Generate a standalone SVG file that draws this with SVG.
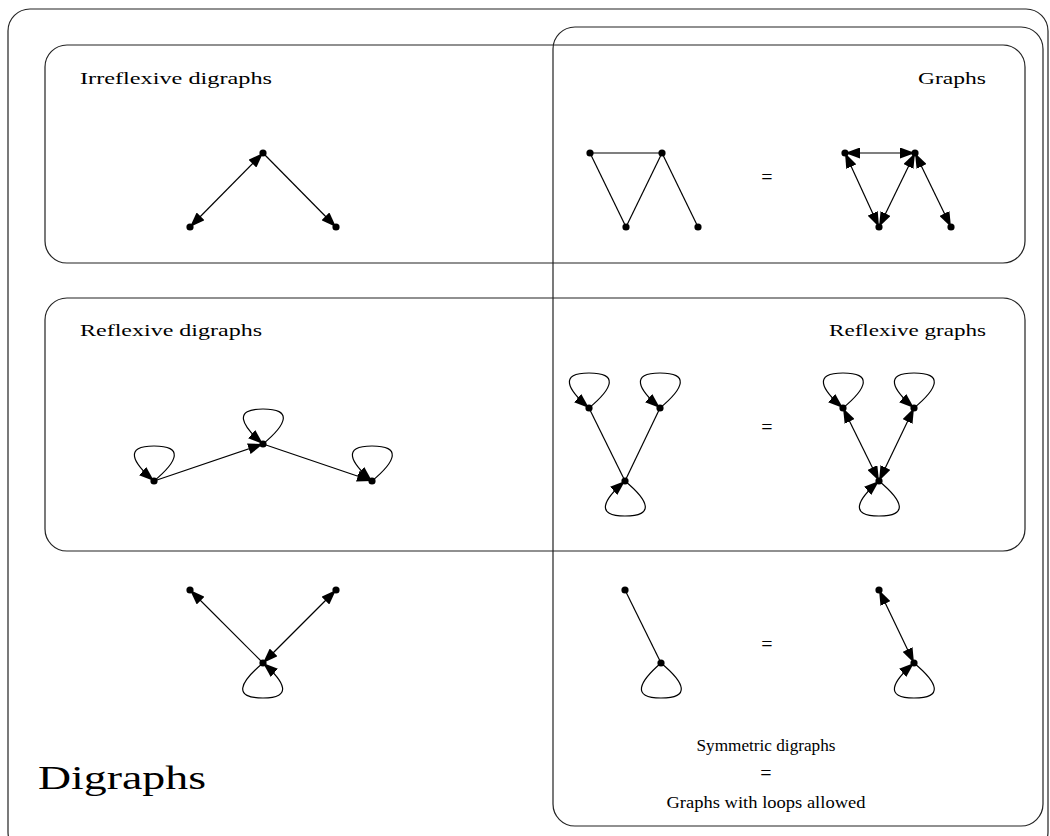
<svg xmlns="http://www.w3.org/2000/svg" width="1050" height="836" viewBox="0 0 1050 836">
<defs>
<marker id="ah" viewBox="0 0 15 11" markerWidth="15" markerHeight="11" refX="15" refY="5.5" orient="auto-start-reverse" markerUnits="userSpaceOnUse">
<path d="M0,0 L15,5.5 L0,11 z" fill="#000"/>
</marker>
<style>
.frame{fill:none;stroke:#222;stroke-width:1.2}
.e{fill:none;stroke:#000;stroke-width:1.2}
.d{marker-end:url(#ah)}
.b{marker-start:url(#ah);marker-end:url(#ah)}
.n{fill:#000}
.t{font-family:"Liberation Serif","DejaVu Serif",serif;font-size:17px;fill:#000}
.eq{font-family:"Liberation Serif","DejaVu Serif",serif;font-size:20px;fill:#000;text-anchor:middle}
</style>
</defs>
<g id="frames">
<rect id="outer" class="frame" x="8" y="9" width="1040" height="845" rx="22"/>
<rect id="irreflexive" class="frame" x="45" y="45" width="980" height="218" rx="22"/>
<rect id="reflexive" class="frame" x="45" y="298" width="980" height="253" rx="22"/>
<rect id="symmetric" class="frame" x="553" y="27" width="490" height="799" rx="22"/>
</g>
<g id="labels">
<text class="t" x="80" y="84" textLength="192" lengthAdjust="spacingAndGlyphs">Irreflexive digraphs</text>
<text class="t" x="986" y="84" text-anchor="end" textLength="68" lengthAdjust="spacingAndGlyphs">Graphs</text>
<text class="t" x="80" y="336" textLength="182" lengthAdjust="spacingAndGlyphs">Reflexive digraphs</text>
<text class="t" x="986" y="336" text-anchor="end" textLength="157" lengthAdjust="spacingAndGlyphs">Reflexive graphs</text>
<text x="38" y="789" font-family="Liberation Serif,DejaVu Serif,serif" font-size="34" textLength="168" lengthAdjust="spacingAndGlyphs">Digraphs</text>
<text class="t" x="766" y="751" text-anchor="middle" textLength="139" lengthAdjust="spacingAndGlyphs">Symmetric digraphs</text>
<text class="eq" x="766" y="780">=</text>
<text class="t" x="766" y="808" text-anchor="middle" textLength="199" lengthAdjust="spacingAndGlyphs">Graphs with loops allowed</text>
<text class="eq" x="767" y="184">=</text>
<text class="eq" x="767" y="434">=</text>
<text class="eq" x="767" y="651">=</text>
</g>
<g id="connectors">
<line class="e b" x1="263" y1="153" x2="190" y2="227"/>
<line class="e d" x1="263" y1="153" x2="336" y2="227"/>
<line class="e" x1="590" y1="153" x2="662" y2="153"/>
<line class="e" x1="590" y1="153" x2="626" y2="227"/>
<line class="e" x1="662" y1="153" x2="626" y2="227"/>
<line class="e" x1="662" y1="153" x2="698" y2="227"/>
<line class="e b" x1="845" y1="153" x2="915" y2="153"/>
<line class="e b" x1="845" y1="153" x2="879" y2="227"/>
<line class="e b" x1="915" y1="153" x2="879" y2="227"/>
<line class="e b" x1="915" y1="153" x2="951" y2="227"/>
<line class="e d" x1="154" y1="481" x2="263" y2="444"/>
<line class="e d" x1="263" y1="444" x2="372" y2="481"/>
<path class="e d" d="M154,481 C178,461 184,446 154,446 C124,446 132,462 154,481"/>
<path class="e d" d="M263,444 C287,424 293,409 263,409 C233,409 241,425 263,444"/>
<path class="e d" d="M372,481 C396,461 402,446 372,446 C342,446 350,462 372,481"/>
<line class="e" x1="589" y1="408" x2="625" y2="481"/>
<line class="e" x1="660" y1="408" x2="625" y2="481"/>
<path class="e d" d="M589,408 C613,388 619,373 589,373 C559,373 567,389 589,408"/>
<path class="e d" d="M660,408 C684,388 690,373 660,373 C630,373 638,389 660,408"/>
<path class="e d" d="M625,481 C649,501 655,516 625,516 C595,516 603,500 625,481"/>
<line class="e b" x1="843" y1="408" x2="879" y2="481"/>
<line class="e b" x1="914" y1="408" x2="879" y2="481"/>
<path class="e d" d="M843,408 C867,388 873,373 843,373 C813,373 821,389 843,408"/>
<path class="e d" d="M914,408 C938,388 944,373 914,373 C884,373 892,389 914,408"/>
<path class="e d" d="M879,481 C903,501 909,516 879,516 C849,516 857,500 879,481"/>
<line class="e d" x1="263" y1="663" x2="190" y2="590"/>
<line class="e b" x1="263" y1="663" x2="336" y2="590"/>
<path class="e d" d="M263,663 C239,683 233,698 263,698 C293,698 285,682 263,663"/>
<line class="e" x1="625" y1="590" x2="661" y2="663"/>
<path class="e" d="M661,663 C685,683 691,698 661,698 C631,698 639,682 661,663"/>
<line class="e b" x1="879" y1="590" x2="914" y2="663"/>
<path class="e d" d="M914,663 C938,683 944,698 914,698 C884,698 892,682 914,663"/>
</g>
<g id="nodes">
<g id="n1"><circle class="n" cx="263" cy="153" r="3.6"/></g>
<g id="n2"><circle class="n" cx="190" cy="227" r="3.6"/></g>
<g id="n3"><circle class="n" cx="336" cy="227" r="3.6"/></g>
<g id="n4"><circle class="n" cx="590" cy="153" r="3.6"/></g>
<g id="n5"><circle class="n" cx="662" cy="153" r="3.6"/></g>
<g id="n6"><circle class="n" cx="626" cy="227" r="3.6"/></g>
<g id="n7"><circle class="n" cx="698" cy="227" r="3.6"/></g>
<g id="n8"><circle class="n" cx="845" cy="153" r="3.6"/></g>
<g id="n9"><circle class="n" cx="915" cy="153" r="3.6"/></g>
<g id="n10"><circle class="n" cx="879" cy="227" r="3.6"/></g>
<g id="n11"><circle class="n" cx="951" cy="227" r="3.6"/></g>
<g id="n12"><circle class="n" cx="154" cy="481" r="3.6"/></g>
<g id="n13"><circle class="n" cx="263" cy="444" r="3.6"/></g>
<g id="n14"><circle class="n" cx="372" cy="481" r="3.6"/></g>
<g id="n15"><circle class="n" cx="589" cy="408" r="3.6"/></g>
<g id="n16"><circle class="n" cx="660" cy="408" r="3.6"/></g>
<g id="n17"><circle class="n" cx="625" cy="481" r="3.6"/></g>
<g id="n18"><circle class="n" cx="843" cy="408" r="3.6"/></g>
<g id="n19"><circle class="n" cx="914" cy="408" r="3.6"/></g>
<g id="n20"><circle class="n" cx="879" cy="481" r="3.6"/></g>
<g id="n21"><circle class="n" cx="190" cy="590" r="3.6"/></g>
<g id="n22"><circle class="n" cx="336" cy="590" r="3.6"/></g>
<g id="n23"><circle class="n" cx="263" cy="663" r="3.6"/></g>
<g id="n24"><circle class="n" cx="625" cy="590" r="3.6"/></g>
<g id="n25"><circle class="n" cx="661" cy="663" r="3.6"/></g>
<g id="n26"><circle class="n" cx="879" cy="590" r="3.6"/></g>
<g id="n27"><circle class="n" cx="914" cy="663" r="3.6"/></g>
</g>
</svg>
